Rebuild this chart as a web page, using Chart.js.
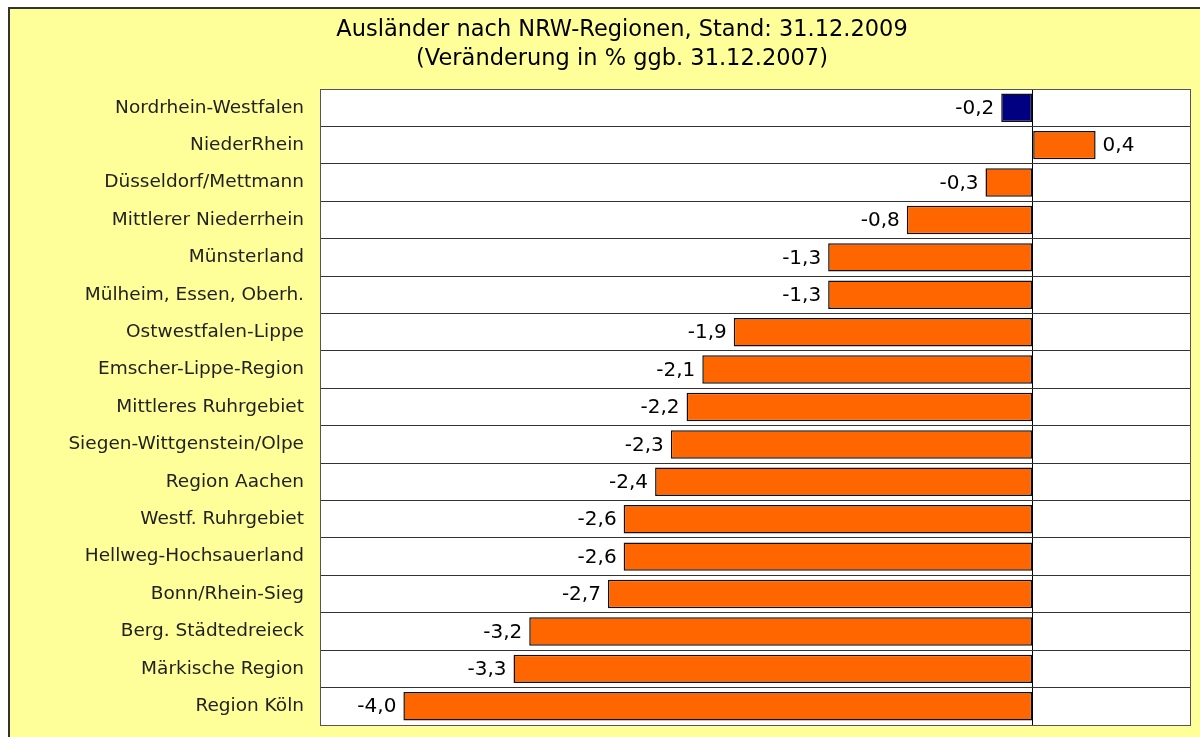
<!DOCTYPE html>
<html>
<head>
<meta charset="utf-8">
<script src="https://cdn.jsdelivr.net/npm/chart.js@4"></script>
<style>
  html, body { margin: 0; padding: 0; background: #fff; }
  #wrap { position: relative; width: 1200px; height: 737px; }
</style>
</head>
<body>
<div id="wrap"><canvas id="c" width="1200" height="737"></canvas></div>
<script>
const regions = [
  'Nordrhein-Westfalen', 'NiederRhein', 'Düsseldorf/Mettmann', 'Mittlerer Niederrhein',
  'Münsterland', 'Mülheim, Essen, Oberh.', 'Ostwestfalen-Lippe', 'Emscher-Lippe-Region',
  'Mittleres Ruhrgebiet', 'Siegen-Wittgenstein/Olpe', 'Region Aachen', 'Westf. Ruhrgebiet',
  'Hellweg-Hochsauerland', 'Bonn/Rhein-Sieg', 'Berg. Städtedreieck', 'Märkische Region',
  'Region Köln'
];
const changes = [-0.2, 0.4, -0.3, -0.8, -1.3, -1.3, -1.9, -2.1, -2.2, -2.3, -2.4, -2.6, -2.6, -2.7, -3.2, -3.3, -4.0];
const titleLines = ['Ausländer nach NRW-Regionen, Stand: 31.12.2009', '(Veränderung in % ggb. 31.12.2007)'];

const FONT = '"DejaVu Sans", Verdana, sans-serif';
const fmt = v => v.toFixed(1).replace('.', ',');

// yellow frame + title + value labels
const framePlugin = {
  id: 'frame',
  beforeDraw(chart) {
    const c = chart.ctx;
    c.save();
    c.fillStyle = '#ffff99';
    c.fillRect(8, 7, 1200, 740);
    c.strokeStyle = '#333';
    c.lineWidth = 2;
    c.strokeRect(9, 8, 1200, 740);
    c.fillStyle = '#000';
    c.font = '22.5px ' + FONT;
    c.textAlign = 'center';
    c.textBaseline = 'middle';
    c.fillText(titleLines[0], 622, 30);
    c.fillText(titleLines[1], 622, 59);
    const a = chart.chartArea;
    c.fillStyle = '#fff';
    c.fillRect(a.left, a.top, a.right - a.left, a.bottom - a.top);
    c.restore();
  },
  afterDraw(chart) {
    const c = chart.ctx;
    const a = chart.chartArea;
    c.save();
    c.strokeStyle = '#555';
    c.lineWidth = 1;
    c.strokeRect(a.left + 0.5, a.top + 0.5, a.right - a.left, a.bottom - a.top);
    const meta = chart.getDatasetMeta(0);
    c.fillStyle = '#000';
    c.font = '20px ' + FONT;
    c.textBaseline = 'middle';
    meta.data.forEach((bar, i) => {
      const v = changes[i];
      if (v < 0) {
        c.textAlign = 'right';
        c.fillText(fmt(v), bar.x - 7, bar.y + 1);
      } else {
        c.textAlign = 'left';
        c.fillText(fmt(v), bar.x + 7, bar.y + 1);
      }
    });
    c.restore();
  }
};

new Chart(document.getElementById('c'), {
  type: 'bar',
  data: {
    labels: regions,
    datasets: [{
      data: changes,
      backgroundColor: changes.map((v, i) => i === 0 ? '#000080' : '#ff6600'),
      borderColor: '#111',
      borderWidth: 1.5,
      borderSkipped: false,
      barPercentage: 0.76,
      categoryPercentage: 1
    }]
  },
  options: {
    indexAxis: 'y',
    responsive: false,
    animation: false,
    layout: { padding: { left: 0, top: 89, right: 10, bottom: 12 } },
    plugins: {
      legend: { display: false },
      title: { display: false },
      tooltip: { enabled: false }
    },
    scales: {
      x: {
        min: -4.53,
        max: 1.0,
        ticks: { display: false, stepSize: 0.1 },
        border: { display: false },
        grid: {
          drawTicks: false,
          color: ctx => (ctx.tick && Math.abs(ctx.tick.value) < 1e-9) ? '#000' : 'rgba(0,0,0,0)',
          lineWidth: 1
        },
        afterFit(scale) { scale.height = 0; }
      },
      y: {
        ticks: {
          color: '#222',
          font: { family: FONT, size: 18.5 },
          padding: 16
        },
        border: { display: false },
        grid: { drawTicks: false, color: '#333', lineWidth: 1 },
        afterFit(scale) {
          scale.width = 320;
          scale.paddingTop = 0;
          scale.paddingBottom = 0;
        }
      }
    }
  },
  plugins: [framePlugin]
});
</script>
</body>
</html>
